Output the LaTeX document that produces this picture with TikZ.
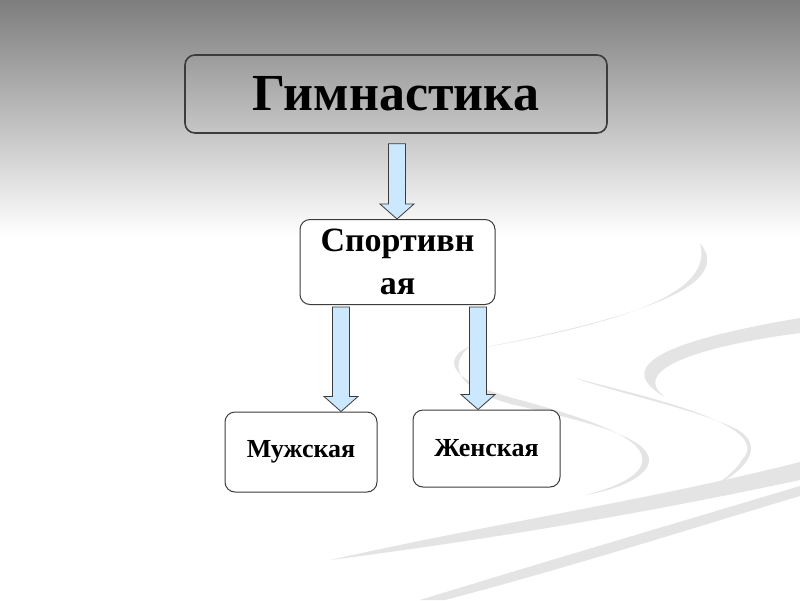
\documentclass[tikz,border=0pt]{standalone}
\usepackage{fontspec}
\setmainfont{Liberation Serif}
\usetikzlibrary{calc}

\definecolor{arrowblue}{RGB}{204,232,255}
\definecolor{edgegray}{RGB}{60,60,60}
\definecolor{swoosh}{RGB}{228,228,228}

% block arrow from the first point straight down to the second
\newcommand{\blockarrow}[2]{%
  \draw[blk] let \p1=(#1), \p2=(#2) in
    (\x1-8.5pt,\y1) -- (\x1+8.5pt,\y1) -- (\x1+8.5pt,\y2+15pt) -- (\x1+17pt,\y2+15pt)
    -- (\x1,\y2) -- (\x1-17pt,\y2+15pt) -- (\x1-8.5pt,\y2+15pt) -- cycle;}

\begin{document}
\begin{tikzpicture}[x=1pt, y=-1pt,
  title/.style={rectangle, rounded corners=10pt, draw=edgegray, line width=1.6pt,
                minimum width=422pt, minimum height=78pt,
                font=\fontsize{52}{60}\selectfont\bfseries},
  box/.style={rectangle, rounded corners=10pt, draw=edgegray, line width=1pt,
              fill=white, align=center, inner sep=0pt},
  blk/.style={fill=arrowblue, draw=edgegray, line width=0.8pt, line join=miter},
  band/.style={fill=swoosh, draw=none},
]
\useasboundingbox (0,0) rectangle (800,600);
% background
\fill[white] (0,0) rectangle (800,600);
\shade[top color={rgb,255:red,125;green,125;blue,125}, bottom color=white]
  (0,0) rectangle (800,236);
\path[band] (700,243) .. controls (735,285) and (640,318) .. (470,350)
  .. controls (630,322) and (714,292) .. (700,243) -- cycle;
\path[band] (470,346) .. controls (440,360) and (450,382) .. (520,400)
  .. controls (600,422) and (655,442) .. (640,468)
  .. controls (630,482) and (605,490) .. (585,495)
  .. controls (618,490) and (656,474) .. (648,455)
  .. controls (638,434) and (580,420) .. (515,405)
  .. controls (455,390) and (448,364) .. (470,346) -- cycle;
\path[band] (800,318) .. controls (700,335) and (600,360) .. (665,397)
  .. controls (628,370) and (700,346) .. (800,333) -- cycle;
\path[band] (575,378) .. controls (650,398) and (775,425) .. (742,460)
  .. controls (736,470) and (726,478) .. (715,485)
  .. controls (748,470) and (764,445) .. (738,430)
  .. controls (700,410) and (620,394) .. (575,378) -- cycle;
\path[band] (330,560) .. controls (500,522) and (650,500) .. (800,462)
  -- (800,480) .. controls (650,512) and (500,538) .. (330,560) -- cycle;
\path[band] (420,600) .. controls (550,560) and (680,522) .. (800,486)
  -- (800,496) .. controls (680,532) and (560,570) .. (445,600) -- cycle;

\node[title] (gym) at (396,94) {Гимнастика};
\node[box, minimum width=195pt, minimum height=85pt,
      font=\fontsize{34}{38}\selectfont\bfseries] (sport) at (397.5,262) {Спортивн\\[5pt]ая};
\node[box, minimum width=152pt, minimum height=80pt,
      font=\fontsize{26}{30}\selectfont\bfseries] (men) at (301,452) {Мужская};
\node[box, minimum width=147pt, minimum height=77pt,
      font=\fontsize{26}{30}\selectfont\bfseries] (women) at (486.5,448.5) {Женская};

\coordinate (topstart) at ($(gym.south)+(1,10)$);
\coordinate (menstart) at ($(sport.south)+(-56.5,2)$);
\coordinate (womenstart) at ($(sport.south)+(80.5,2)$);
\blockarrow{topstart}{topstart |- sport.north}
\blockarrow{menstart}{menstart |- men.north}
\blockarrow{womenstart}{womenstart |- women.north}
\end{tikzpicture}
\end{document}
